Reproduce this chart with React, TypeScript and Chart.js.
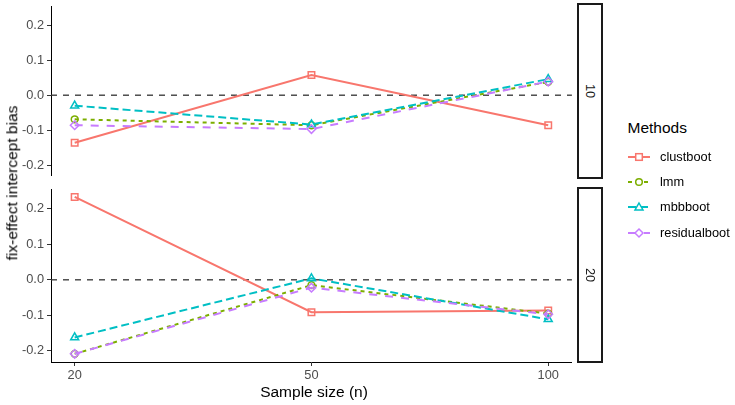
import React, { useEffect, useRef } from "react";
import { Chart, registerables } from "chart.js";

Chart.register(...registerables);

// ---------- data ----------
const sampleSizes = ["20", "50", "100"];
const methods = ["clustboot", "lmm", "mbbboot", "residualboot"];
const panelLabels = ["10", "20"];

// panel "10"
const clustboot10 = [-0.136, 0.058, -0.086];
const lmm10 = [-0.069, -0.086, 0.038];
const mbbboot10 = [-0.030, -0.084, 0.046];
const residualboot10 = [-0.086, -0.097, 0.039];

// panel "20"
const clustboot20 = [0.233, -0.091, -0.086];
const lmm20 = [-0.208, -0.015, -0.095];
const mbbboot20 = [-0.162, 0.004, -0.111];
const residualboot20 = [-0.208, -0.022, -0.097];

const yTicks = [-0.2, -0.1, 0.0, 0.1, 0.2];
const refLevel = 0;

// ---------- styles ----------
const FONT = "'Liberation Sans', Arial, Helvetica, sans-serif";
const colors = ["#F8766D", "#7CAE00", "#00BFC4", "#C77CFF"];
const dashes: number[][] = [[], [4, 4], [8, 4], [8, 8]];
const pointStyles = ["rect", "circle", "triangle", "rectRot"];
const pointRadii = [4.6, 3.4, 4.6, 4.3];
const Y_MIN = -0.231;
const Y_MAX = 0.255;
const X_MIN = -0.1;
const X_MAX = 2.1;

function buildConfig(series: number[][], showX: boolean, padTop: number, padBottom: number): any {
  const datasets: any[] = series.map((vals, k) => ({
    label: methods[k],
    data: vals.map((y, i) => ({ x: i, y })),
    borderColor: colors[k],
    backgroundColor: "rgba(0,0,0,0)",
    borderWidth: 2,
    borderDash: dashes[k],
    pointStyle: pointStyles[k],
    pointRadius: pointRadii[k],
    pointBorderWidth: 1.5,
    pointBorderColor: colors[k],
    pointBackgroundColor: "rgba(0,0,0,0)",
    tension: 0,
    fill: false,
    order: 4 - k,
  }));
  datasets.push({
    label: "ref",
    data: [
      { x: X_MIN, y: refLevel },
      { x: X_MAX, y: refLevel },
    ],
    borderColor: "#333333",
    borderWidth: 1.3,
    borderDash: [6, 6],
    pointRadius: 0,
    fill: false,
    order: 10,
  });
  return {
    type: "line",
    data: { datasets },
    options: {
      responsive: false,
      animation: false,
      events: [],
      devicePixelRatio: 1,
      layout: { padding: { top: padTop, bottom: padBottom, left: 0, right: 0 } },
      plugins: { legend: { display: false }, tooltip: { enabled: false }, title: { display: false } },
      scales: {
        x: {
          type: "linear",
          min: X_MIN,
          max: X_MAX,
          display: showX,
          afterBuildTicks: (s: any) => {
            s.ticks = sampleSizes.map((_, i) => ({ value: i }));
          },
          afterFit: (s: any) => {
            s.height = showX ? 43 : 0;
            s.paddingLeft = 0;
            s.paddingRight = 0;
          },
          ticks: {
            autoSkip: false,
            maxRotation: 0,
            padding: 2,
            color: "#4D4D4D",
            font: { family: FONT, size: 12.8 },
            callback: (v: any) => sampleSizes[Math.round(Number(v))],
          },
          grid: { display: true, drawOnChartArea: false, drawTicks: true, tickLength: 4, color: "#333333" },
          border: { display: true, color: "#000000", width: 1 },
        },
        y: {
          type: "linear",
          min: Y_MIN,
          max: Y_MAX,
          afterBuildTicks: (s: any) => {
            s.ticks = yTicks.map((v) => ({ value: v }));
          },
          afterFit: (s: any) => {
            s.width = 51;
            s.paddingTop = 0;
            s.paddingBottom = 0;
          },
          ticks: {
            padding: 3,
            color: "#4D4D4D",
            font: { family: FONT, size: 12.8 },
            callback: (v: any) => Number(v).toFixed(1),
          },
          grid: { display: true, drawOnChartArea: false, drawTicks: true, tickLength: 4, color: "#333333" },
          border: { display: true, color: "#000000", width: 1 },
        },
      },
    },
  };
}

function Panel(props: { series: number[][]; showX: boolean; top: number; height: number; padTop: number; padBottom: number }) {
  const ref = useRef<HTMLCanvasElement | null>(null);
  useEffect(() => {
    if (!ref.current) return;
    const chart = new Chart(ref.current, buildConfig(props.series, props.showX, props.padTop, props.padBottom));
    return () => chart.destroy();
  }, []);
  return (
    <canvas
      ref={ref}
      width={578}
      height={props.height}
      style={{ position: "absolute", left: 0, top: props.top, width: 578, height: props.height }}
    />
  );
}

function LegendKey(props: { k: number }) {
  const k = props.k;
  const c = colors[k];
  const cx = 11;
  const cy = 7;
  let shape: any = null;
  if (k === 0) shape = <rect x={cx - 3.3} y={cy - 3.3} width={6.6} height={6.6} fill="white" stroke={c} strokeWidth={1.5} />;
  if (k === 1) shape = <circle cx={cx} cy={cy} r={3.3} fill="white" stroke={c} strokeWidth={1.5} />;
  if (k === 2)
    shape = (
      <polygon points={`${cx},${cy - 4} ${cx + 4},${cy + 3} ${cx - 4},${cy + 3}`} fill="white" stroke={c} strokeWidth={1.5} />
    );
  if (k === 3)
    shape = (
      <polygon points={`${cx},${cy - 4} ${cx + 4},${cy} ${cx},${cy + 4} ${cx - 4},${cy}`} fill="white" stroke={c} strokeWidth={1.5} />
    );
  return (
    <svg width={22} height={14} style={{ position: "absolute", left: 0, top: -7 }}>
      <line x1={0} x2={22} y1={cy} y2={cy} stroke={c} strokeWidth={2} strokeDasharray={dashes[k].length ? dashes[k].join(",") : undefined} />
      {shape}
    </svg>
  );
}

export default function App() {
  const topSeries = [clustboot10, lmm10, mbbboot10, residualboot10];
  const bottomSeries = [clustboot20, lmm20, mbbboot20, residualboot20];
  const stripStyle = (top: number): any => ({
    position: "absolute",
    left: 577,
    top,
    width: 26,
    height: 176,
    boxSizing: "border-box",
    border: "2px solid #1a1a1a",
    background: "white",
  });
  const stripText = (centerY: number, txt: string) => (
    <div
      style={{
        position: "absolute",
        left: 590,
        top: centerY,
        transform: "translate(-50%, -50%) rotate(90deg)",
        fontFamily: FONT,
        fontSize: 12.8,
        color: "#1A1A1A",
        whiteSpace: "nowrap",
        lineHeight: 1,
      }}
    >
      {txt}
    </div>
  );
  return (
    <div style={{ position: "absolute", left: 0, top: 0, width: 735, height: 405, background: "white", overflow: "hidden", fontFamily: FONT }}>
      <Panel series={topSeries} showX={false} top={0} height={182} padTop={3} padBottom={4} />
      <Panel series={bottomSeries} showX={true} top={183} height={222} padTop={4} padBottom={0} />

      <div style={stripStyle(2.5)} />
      {stripText(90.5, panelLabels[0])}
      <div style={stripStyle(186.5)} />
      {stripText(274.5, panelLabels[1])}

      <div
        style={{
          position: "absolute",
          left: 12,
          top: 182.5,
          transform: "translate(-50%, -50%) rotate(-90deg)",
          fontSize: 15.5,
          color: "#000",
          whiteSpace: "nowrap",
          lineHeight: 1,
        }}
      >
        fix-effect intercept bias
      </div>
      <div
        style={{
          position: "absolute",
          left: 314,
          top: 392,
          transform: "translate(-50%, -50%)",
          fontSize: 15.5,
          color: "#000",
          whiteSpace: "nowrap",
          lineHeight: 1,
        }}
      >
        Sample size (n)
      </div>

      <div
        style={{
          position: "absolute",
          left: 627.5,
          top: 128,
          transform: "translateY(-50%)",
          fontSize: 15.5,
          color: "#000",
          whiteSpace: "nowrap",
          lineHeight: 1,
        }}
      >
        Methods
      </div>
      {methods.map((m, k) => (
        <div key={m} style={{ position: "absolute", left: 628, top: 157 + k * 25.2, width: 110, height: 0 }}>
          <LegendKey k={k} />
          <div
            style={{
              position: "absolute",
              left: 32,
              top: 0,
              transform: "translateY(-50%)",
              fontSize: 12.8,
              color: "#000",
              whiteSpace: "nowrap",
              lineHeight: 1,
            }}
          >
            {m}
          </div>
        </div>
      ))}
    </div>
  );
}
